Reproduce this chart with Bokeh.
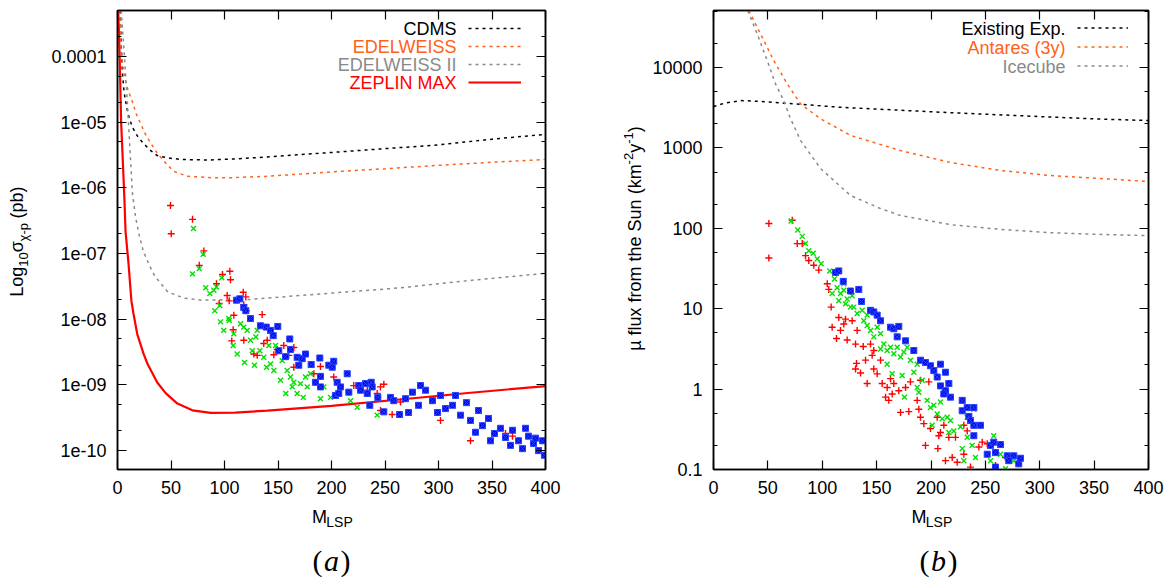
from bokeh.plotting import figure
from bokeh.models import (Label, Legend, LegendItem, FixedTicker, LinearAxis, LogAxis,
                          Range1d, CustomJSTickFormatter)
from bokeh.layouts import row, column
from bokeh.embed import file_html
from bokeh.resources import INLINE

FONT = "Liberation Sans"
SERIF = "Liberation Serif"
ORANGE = "#ff6219"
GRAY = "#8a8a8a"

# ---------------- panel (a) data ----------------
a_xticks = [0, 50, 100, 150, 200, 250, 300, 350, 400]
a_ytick_vals = [1e-10, 1e-9, 1e-8, 1e-7, 1e-6, 1e-5, 1e-4]
a_ytick_labels = ["1e-10", "1e-09", "1e-08", "1e-07", "1e-06", "1e-05", "0.0001"]

cdms_m = [2.5, 3.5, 4.5, 6, 7.5, 10, 14, 19, 24, 30, 37, 47, 60, 84, 110, 140, 171, 200, 250, 300, 350, 400]
cdms_v = [5e-4, 1.5e-4, 6e-5, 3e-5, 2.1e-5, 1.3e-5, 8.3e-6, 6e-6, 4.8e-6, 3.8e-6, 3.1e-6, 2.85e-6,
          2.7e-6, 2.65e-6, 2.75e-6, 2.95e-6, 3.2e-6, 3.45e-6, 3.95e-6, 4.5e-6, 5.5e-6, 6.5e-6]
edel_m = [2.2, 3.5, 5, 7.5, 10, 13.7, 17, 21.5, 26, 31, 37, 43, 52, 65, 90, 108, 140, 171, 200, 250, 300, 350, 400]
edel_v = [5e-4, 1.2e-4, 7e-5, 4.3e-5, 3e-5, 2.1e-5, 1.4e-5, 9.6e-6, 6.6e-6, 4.8e-6, 3.4e-6, 2.6e-6,
          1.8e-6, 1.5e-6, 1.42e-6, 1.43e-6, 1.5e-6, 1.62e-6, 1.75e-6, 1.95e-6, 2.2e-6, 2.45e-6, 2.7e-6]
edel2_m = [3.5, 6, 9, 12, 14, 17, 20, 24, 30, 35, 47, 62, 78, 124, 171, 264, 330, 400]
edel2_v = [5e-4, 1.3e-4, 2.3e-5, 3e-6, 8e-7, 3.5e-7, 2e-7, 1.1e-7, 6.5e-8, 4.5e-8, 2.6e-8, 2.1e-8,
           1.95e-8, 2e-8, 2.3e-8, 3e-8, 3.9e-8, 5e-8]
zeplin_m = [0.7, 2, 3.4, 5, 6.5, 7.5, 10.3, 13, 15, 18.4, 24.3, 28, 37, 45, 56, 70, 87, 110, 140, 200, 264, 330, 400]
zeplin_v = [5e-4, 1e-4, 1e-5, 2.5e-6, 6.5e-7, 2.2e-7, 7e-8, 1.9e-8, 1.2e-8, 6e-9, 3e-9, 2.1e-9, 1.1e-9,
            7.5e-10, 5.2e-10, 4.1e-10, 3.75e-10, 3.8e-10, 4.05e-10, 4.8e-10, 6e-10, 7.6e-10, 9.6e-10]

# scatter points: LSP mass and log10(sigma / pb)
a_red_m = [49.5, 50.2, 70.1, 80.7, 76.4, 98.1, 105, 105.6, 92.5, 102.5, 117.5, 119.9, 104.4, 95, 118, 108.7,
           135.2, 108.1, 106.8, 118, 127.4, 139.9, 149.3, 155.4, 164.8, 160.1, 136.7, 130.6, 189.7, 183.5,
           202.1, 220.8, 248.9, 245.8, 233.4, 242.7, 245.8, 256.7, 264.5, 120.3, 146.1, 164.8, 329.9, 362.6,
           369.2, 301.9]
a_red_log = [-6.27, -6.70, -6.48, -6.96, -7.18, -7.32, -7.27, -7.40, -7.46, -7.64, -7.59, -7.66, -7.72, -7.76,
             -7.78, -7.94, -7.93, -8.16, -8.33, -8.32, -8.53, -8.32, -8.46, -8.40, -8.43, -8.55, -8.37, -8.55,
             -8.72, -8.83, -8.88, -9.01, -8.99, -9.03, -9.08, -9.13, -9.39, -9.45, -9.26, -7.87, -8.54, -8.73,
             -9.85, -9.74, -9.78, -9.54]
a_green_m = [71, 70.1, 76.4, 80.1, 82.5, 86.3, 90, 92.5, 97.5, 90.9, 95.6, 104.4, 99.3, 108.1, 111.9, 118.7,
             115, 121.2, 124.3, 129.3, 128, 133, 136.7, 139.3, 143, 146.1, 152.3, 157.3, 161.7, 163.3, 167.9,
             173.6, 171, 180.4, 175.7, 189.7, 199.1, 192.8, 224, 242.7, 217.8, 147.7, 130.6, 141.4, 125.9,
             158.6, 153.9, 177.3, 164.8, 108.7, 118, 104, 96.3]
a_green_log = [-6.62, -7.31, -7.23, -7.01, -7.52, -7.61, -7.56, -7.51, -7.37, -7.87, -7.79, -8.02, -8.17, -8.40,
               -8.53, -8.66, -8.07, -8.17, -8.32, -8.27, -8.70, -8.48, -8.58, -8.73, -8.68, -8.78, -8.93, -9.13,
               -8.88, -9.03, -9.13, -9.19, -8.98, -8.83, -8.88, -9.21, -9.19, -9.03, -9.34, -9.46, -9.24, -8.40,
               -8.17, -8.40, -8.48, -8.78, -8.63, -9.03, -8.96, -8.22, -8.12, -7.99, -8.04]
a_blue_m = [111.2, 114.3, 118, 119.9, 124.3, 133.6, 139, 143, 145.5, 149.8, 161, 150.7, 157, 161.7, 167.9,
            172.6, 169.4, 175.7, 181, 189.1, 189.7, 197.5, 202.1, 200.7, 205.3, 214.7, 208.4, 203.7, 206.8,
            216.2, 225.5, 231.8, 237.1, 238, 227.1, 233.4, 235.8, 243.3, 248.9, 255.1, 258.2, 263.6, 189.7,
            185, 269.2, 275.7, 281.3, 287.9, 294.4, 301.9, 306.5, 313.1, 320.6, 326.2, 329.9, 337.4, 341.1,
            346.7, 352.3, 357.9, 362.6, 369.2, 374.8, 378.5, 384.1, 388.8, 393.5, 397.2, 399, 272, 283.2,
            299.1, 315.9, 334.6, 348.6, 367.3, 381.3, 390.7]
a_blue_log = [-7.71, -7.69, -7.82, -7.87, -7.99, -8.10, -8.12, -8.17, -8.25, -8.11, -8.30, -8.48, -8.57, -8.46,
              -8.58, -8.60, -8.70, -8.53, -8.69, -8.59, -8.87, -8.70, -8.64, -8.73, -8.96, -8.83, -9.03, -9.16,
              -9.13, -9.11, -9.01, -8.98, -8.96, -9.03, -9.08, -9.13, -9.31, -9.19, -9.41, -9.19, -9.24, -9.45,
              -9.03, -8.96, -9.21, -9.11, -9.31, -9.08, -9.24, -9.16, -9.36, -9.31, -9.46, -9.27, -9.54, -9.39,
              -9.62, -9.51, -9.74, -9.66, -9.80, -9.69, -9.85, -9.97, -9.78, -9.89, -10.00, -9.85, -10.07,
              -9.42, -9.01, -9.42, -9.16, -9.72, -9.85, -9.92, -9.66, -9.81]

# ---------------- panel (b) data ----------------
b_xticks = [0, 50, 100, 150, 200, 250, 300, 350, 400]
b_ytick_vals = [0.1, 1, 10, 100, 1000, 10000]
b_ytick_labels = ["0.1", "1", "10", "100", "1000", "10000"]

exist_m = [0, 10, 25, 40, 65, 117, 209, 301, 350, 400]
exist_v = [3270, 3600, 3880, 3810, 3600, 3200, 2780, 2450, 2300, 2190]
antares_m = [32.5, 43.2, 55.4, 67.8, 80, 98.4, 126, 172, 218, 264, 310, 356, 400]
antares_v = [51000, 26200, 12200, 6270, 3530, 2300, 1430, 927, 658, 524, 453, 416, 382]
icecube_m = [31.5, 40.2, 49.4, 57, 64.6, 70.8, 80, 98.4, 126, 153.6, 172, 218, 264, 310, 356, 400]
icecube_v = [51000, 26200, 12200, 6270, 3880, 2320, 1240, 555, 256, 176, 144, 111, 97, 88, 84, 81]

b_red_m = [50.9, 50.9, 72.4, 77, 81.6, 84.6, 87.6, 92.2, 96.8, 104.6, 106, 108.2, 109.1, 113.1, 116.8, 119.8,
           122.9, 115.2, 121.4, 127.5, 130.6, 131.5, 130.6, 135.2, 137.7, 141.3, 144.4, 145.9, 147.4, 150.5,
           155.1, 158.2, 161.2, 164.3, 159.7, 162.8, 165.8, 170.4, 172, 179.6, 176.6, 181.1, 188.8, 190.3,
           193.4, 194.9, 199.5, 198, 206.3, 207.2, 208.7, 211.8, 213.3, 216.4, 219.5, 222.5, 224.1, 230.2,
           233.3, 230.2, 236.3, 244, 247.1, 251.7, 259.3, 268.5, 153.6, 139.8, 132.1, 147.4, 190.3, 205.7,
           187.3]
b_red_log = [2.06, 1.63, 2.10, 1.81, 1.81, 1.66, 1.60, 1.54, 1.48, 1.31, 1.24, 1.02, 0.77, 0.63, 0.73, 0.81,
             0.61, 0.89, 0.87, 0.85, 0.56, 0.32, 0.25, 0.20, 0.53, 0.07, 0.56, 0.42, 0.25, 0.19, 0.07, -0.10,
             -0.14, -0.06, 0.02, 0.13, 0.07, -0.02, -0.29, -0.28, 0.02, 0.09, -0.25, -0.35, -0.43, -0.70,
             -0.49, 0.09, -0.74, -0.58, -0.54, -0.45, -0.89, -0.60, -0.85, -0.60, -0.91, -0.45, -0.52, -0.81,
             -0.97, -0.72, -0.66, -0.68, -0.95, -0.85, 0.36, 0.36, 0.73, 0.48, 0.11, -0.35, -0.14]
b_green_m = [71.4, 77.5, 81.6, 84.6, 87.6, 91.7, 95.4, 99, 106.9, 111.3, 113.7, 116.8, 119.8, 122.9, 127.5,
             115.2, 121.4, 129, 132.1, 136.7, 138.2, 141.3, 144.4, 147.4, 150.5, 153.6, 156.6, 159.7, 162.8,
             165.8, 168.9, 172, 175, 178.1, 159.7, 164.3, 173.5, 175.6, 181.1, 184.2, 187.3, 188.8, 191.9,
             196.5, 199.5, 201.1, 205.7, 208.7, 210.3, 214.9, 216.4, 217.9, 221, 227.1, 228.7, 230.2, 233.3,
             237.9, 239.4, 240.9, 244, 251.7, 254.7, 257.7, 263.9, 268.5, 276.1, 233.3, 141.3, 126, 109.1,
             119.8, 153.6, 187.3, 202.6]
b_green_log = [2.09, 1.98, 1.90, 1.81, 1.72, 1.69, 1.62, 1.56, 1.47, 1.37, 1.26, 1.19, 1.23, 1.12, 1.16, 1.10,
               1.06, 1.02, 0.94, 0.98, 0.85, 0.79, 0.73, 0.65, 0.77, 0.69, 0.56, 0.48, 0.52, 0.44, 0.52, 0.40,
               0.46, 0.52, 0.31, 0.19, 0.17, -0.10, 0.36, 0.21, 0.02, -0.04, 0.11, -0.14, -0.23, -0.45, -0.31,
               -0.16, -0.37, -0.35, -0.54, -0.39, -0.52, -0.47, -0.74, -0.89, -0.60, -0.70, -0.25, -0.85, -0.45,
               -0.81, -0.89, -0.58, -0.81, -0.99, -0.89, -0.35, 0.92, 1.02, 1.19, 1.31, 0.50, 0.31, -0.20]
b_blue_m = [112.2, 115.2, 119.3, 126, 133.6, 136.1, 144.4, 147.4, 150.5, 153.6, 162.8, 165.8, 170.4, 168.9,
            176.6, 190.3, 194.9, 199.5, 208.7, 202.6, 205.7, 208.7, 213.3, 216.4, 211.8, 217.9, 228.7, 228.7,
            233.3, 239.4, 234.8, 236.3, 239.4, 245.5, 239.4, 254.7, 257.7, 263.9, 251.7, 259.3, 270.1, 276.1,
            271.5, 280.7, 259.3, 213.3, 184.2, 282.3]
b_blue_log = [1.45, 1.47, 1.34, 1.22, 1.24, 1.09, 0.98, 0.96, 0.92, 0.85, 0.77, 0.75, 0.78, 0.65, 0.60, 0.36,
              0.33, 0.29, 0.31, 0.23, 0.15, 0.04, -0.02, 0.07, -0.06, -0.10, -0.14, -0.27, -0.23, -0.23, -0.34,
              -0.39, -0.45, -0.45, -0.58, -0.70, -0.66, -0.69, -0.81, -0.79, -0.83, -0.83, -0.89, -0.93, -0.97,
              0.21, 0.48, -0.86]


def tick_formatter(vals, labels):
    return CustomJSTickFormatter(args=dict(vals=vals, labels=labels), code="""
        for (let i = 0; i < vals.length; i++) {
            if (Math.abs(Math.log10(vals[i]) - Math.log10(tick)) < 1e-6) { return labels[i]; }
        }
        return "";
    """)


def minor_list(vals):
    out = []
    for v in vals:
        out += [2 * v, 5 * v]
    return out


def make_fig(width, border_left, border_right, yr, xticks, yvals, ylabels):
    p = figure(width=width, height=504, x_range=Range1d(0, 400), y_range=Range1d(*yr),
               y_axis_type="log", output_backend="svg", toolbar_location=None,
               min_border_left=border_left, min_border_right=border_right,
               min_border_top=10, min_border_bottom=35)
    p.grid.visible = False
    p.outline_line_color = "black"
    p.outline_line_width = 1.5
    p.background_fill_color = "white"
    p.border_fill_color = "white"
    yminor = minor_list([yvals[0] / 10] + yvals)
    for ax in (p.xaxis[0], p.yaxis[0]):
        ax.major_label_text_font = FONT
        ax.major_label_text_font_size = "18px"
        ax.major_label_text_color = "black"
        ax.major_label_standoff = 11
        ax.major_tick_in = 9
        ax.major_tick_out = 0
        ax.minor_tick_in = 4
        ax.minor_tick_out = 0
        ax.axis_line_width = 1.5
        ax.major_tick_line_width = 1.2
        ax.minor_tick_line_width = 1.2
    p.xaxis[0].ticker = FixedTicker(ticks=xticks)
    p.yaxis[0].ticker = FixedTicker(ticks=yvals, minor_ticks=yminor)
    p.yaxis[0].formatter = tick_formatter(yvals, ylabels)
    blank = CustomJSTickFormatter(code="return '';")
    top = LinearAxis(ticker=FixedTicker(ticks=xticks), formatter=blank, major_label_text_font_size="1px",
                     major_label_standoff=0, major_tick_in=9, major_tick_out=0,
                     minor_tick_in=0, minor_tick_out=0, axis_line_width=1.5, major_tick_line_width=1.2)
    right = LogAxis(ticker=FixedTicker(ticks=yvals, minor_ticks=yminor), formatter=blank,
                    major_label_text_font_size="1px",
                    major_label_standoff=0, major_tick_in=9, major_tick_out=0,
                    minor_tick_in=4, minor_tick_out=0, axis_line_width=1.5,
                    major_tick_line_width=1.2, minor_tick_line_width=1.2)
    p.add_layout(top, "above")
    p.add_layout(right, "right")
    return p


def label(p, s, x, y, color="black", align="right", size="18px", angle=0, font=FONT, style="normal"):
    # x, y in pixels measured from the bottom-left corner of the plotting area
    p.add_layout(Label(x=x, y=y, x_units="screen", y_units="screen", text=s, text_font_size=size,
                       text_color=color, text_align=align, text_baseline="middle", text_font=font,
                       text_font_style=style, angle=angle, angle_units="deg"))


def text_fig(w, h):
    # blank panel that only holds axis titles / captions
    f = figure(width=w, height=h, x_range=Range1d(0, 1), y_range=Range1d(0, 1),
               output_backend="svg", toolbar_location=None, x_axis_location=None, y_axis_location=None,
               min_border_left=0, min_border_right=0, min_border_top=0, min_border_bottom=0)
    f.outline_line_color = None
    f.grid.visible = False
    f.background_fill_color = "white"
    f.border_fill_color = "white"
    return f


H = 580
BLUE_FILL = "#0008e0"
BLUE_LINE = "#2840ff"

# ---------------- figure (a) ----------------
p1 = make_fig(548, 77, 43, (5.16e-11, 5.0e-4), a_xticks, a_ytick_vals, a_ytick_labels)
r_cdms = p1.line(cdms_m, cdms_v, line_color="black", line_width=1.5, line_dash="3 4")
r_edel = p1.line(edel_m, edel_v, line_color=ORANGE, line_width=1.5, line_dash="3 4")
r_edel2 = p1.line(edel2_m, edel2_v, line_color=GRAY, line_width=1.5, line_dash="3 4")
r_zep = p1.line(zeplin_m, zeplin_v, line_color="red", line_width=2.2)
p1.scatter(a_red_m, [10 ** v for v in a_red_log], marker="cross", size=7, line_color="red", line_width=1.4)
p1.scatter(a_green_m, [10 ** v for v in a_green_log], marker="x", size=7, line_color="#00e000", line_width=1.4)
p1.scatter(a_blue_m, [10 ** v for v in a_blue_log], marker="square_x", size=6, fill_color=BLUE_FILL,
           line_color=BLUE_LINE, line_width=1.0)

leg1 = Legend(items=[LegendItem(label="\u2009", renderers=[r]) for r in (r_cdms, r_edel, r_edel2, r_zep)],
              location=(351, 378), glyph_width=53, glyph_height=18, label_height=18, label_width=1,
              label_standoff=0, spacing=0, padding=0, margin=0, border_line_color=None,
              background_fill_alpha=0, label_text_font_size="2px")
p1.add_layout(leg1)
for s, c, yy in (("CDMS", "black", 441), ("EDELWEISS", ORANGE, 423), ("EDELWEISS II", GRAY, 405),
                 ("ZEPLIN MAX", "red", 387)):
    label(p1, s, 339, yy, color=c)

ylab1 = text_fig(40, H)
label(ylab1, "Log", 16.5, H - 296.2, align="left", angle=90)
label(ylab1, "10", 23, H - 266.2, align="left", angle=90, size="13px")
label(ylab1, "σ", 16.5, H - 251.7, align="left", angle=90)
label(ylab1, "χ-p", 23, H - 240.9, align="left", angle=90, size="13px")
label(ylab1, "(pb)", 16.5, H - 218.0, align="left", angle=90)

# the plotting area of this panel is aligned with the one of p1 (starts 77 px in)
below1 = text_fig(548, 76)
label(below1, "M", 194.6, 64, align="left")
label(below1, "LSP", 208.8, 59, align="left", size="14px")
label(below1, "(", 205, 20.5, align="right", size="30px", font=SERIF)
label(below1, "a", 214, 20.5, align="center", size="30px", font=SERIF, style="italic")
label(below1, ")", 223, 20.5, align="left", size="30px", font=SERIF)

# ---------------- figure (b) ----------------
p2 = make_fig(518, 65, 18, (0.1, 51200), b_xticks, b_ytick_vals, b_ytick_labels)
r_ex = p2.line(exist_m, exist_v, line_color="black", line_width=1.5, line_dash="3 4")
r_an = p2.line(antares_m, antares_v, line_color=ORANGE, line_width=1.5, line_dash="3 4")
r_ic = p2.line(icecube_m, icecube_v, line_color=GRAY, line_width=1.5, line_dash="3 4")
p2.scatter(b_red_m, [10 ** v for v in b_red_log], marker="cross", size=7, line_color="red", line_width=1.4)
p2.scatter(b_green_m, [10 ** v for v in b_green_log], marker="x", size=7, line_color="#00e000", line_width=1.4)
p2.scatter(b_blue_m, [10 ** v for v in b_blue_log], marker="square_x", size=6, fill_color=BLUE_FILL,
           line_color=BLUE_LINE, line_width=1.0)

leg2 = Legend(items=[LegendItem(label="\u2009", renderers=[r]) for r in (r_ex, r_an, r_ic)],
              location=(364, 394), glyph_width=51, glyph_height=19, label_height=19, label_width=1,
              label_standoff=0, spacing=0, padding=0, margin=0, border_line_color=None,
              background_fill_alpha=0, label_text_font_size="2px")
p2.add_layout(leg2)
for s, c, yy in (("Existing Exp.", "black", 441), ("Antares (3y)", ORANGE, 422), ("Icecube", GRAY, 403)):
    label(p2, s, 352, yy, color=c)

ylab2 = text_fig(60, H)
label(ylab2, "µ flux from the Sun (km", 46, H - 350.3, align="left", angle=90)
label(ylab2, "-2", 40, H - 163.9, align="left", angle=90, size="13px")
label(ylab2, "y", 46, H - 152.3, align="left", angle=90)
label(ylab2, "-1", 40, H - 143.3, align="left", angle=90, size="13px")
label(ylab2, ")", 46, H - 131.7, align="left", angle=90)

# the plotting area of this panel is aligned with the one of p2 (starts 65 px in)
below2 = text_fig(518, 76)
label(below2, "M", 198.1, 64, align="left")
label(below2, "LSP", 212.3, 59, align="left", size="14px")
label(below2, "(", 216, 20.5, align="right", size="30px", font=SERIF)
label(below2, "b", 225, 20.5, align="center", size="30px", font=SERIF, style="italic")
label(below2, ")", 234, 20.5, align="left", size="30px", font=SERIF)

layout = row(ylab1, column(p1, below1), ylab2, column(p2, below2))
open("out.html", "w").write(file_html(layout, INLINE))
